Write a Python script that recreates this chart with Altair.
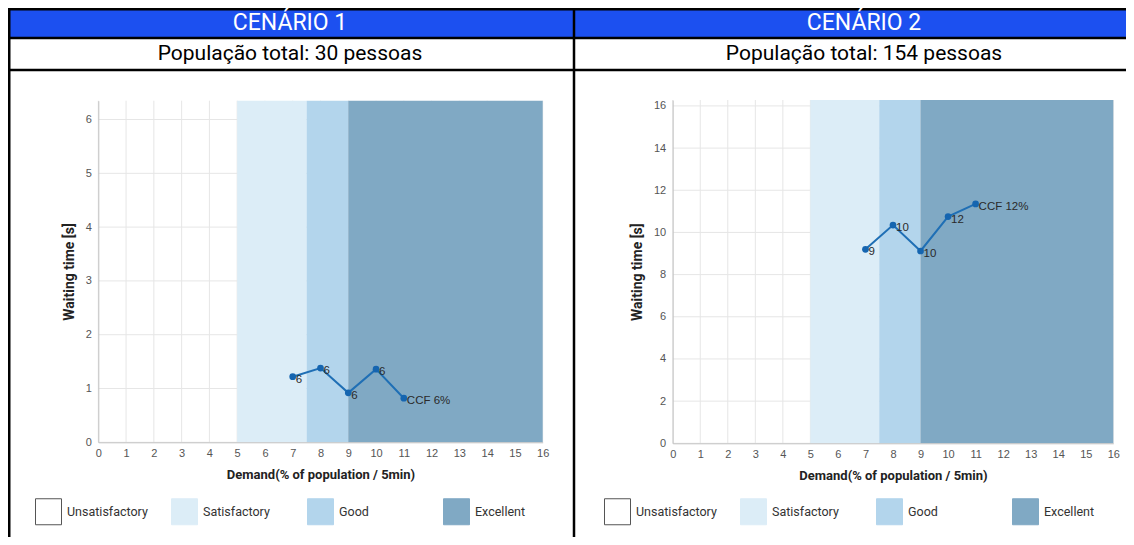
import altair as alt
import pandas as pd

# ---------------- data ----------------
demand = [7, 8, 9, 10, 11]
wait_c1 = [1.22, 1.38, 0.92, 1.36, 0.82]
labels_c1 = ["6", "6", "6", "6", "CCF 6%"]
wait_c2 = [9.2, 10.35, 9.12, 10.75, 11.35]
labels_c2 = ["9", "10", "10", "12", "CCF 12%"]

scenario_titles = ["CENÁRIO 1", "CENÁRIO 2"]
subtitles = ["População total: 30 pessoas", "População total: 154 pessoas"]

band_names = ["Unsatisfactory", "Satisfactory", "Good", "Excellent"]
band_start = [0, 5, 7.5, 9]
band_end = [5, 7.5, 9, 16]
band_colors = ["#ffffff", "#dcedf7", "#b3d5ec", "#80a9c4"]
band_strokes = ["#555555", "#dcedf7", "#b3d5ec", "#80a9c4"]

x_ticks = list(range(0, 17))
y_ticks_c1 = [0, 1, 2, 3, 4, 5, 6]
y_ticks_c2 = [0, 2, 4, 6, 8, 10, 12, 14, 16]
x_max = 16
y_max = [6.35, 16.28]

# ---------------- layout ----------------
W, H = 1118, 529
COND = "Roboto"
SANS = "Liberation Sans"
LINE_COLOR = "#1f6fb5"
GRID_COLOR = "#e6e6e6"


def make_plot(wait, labels, yticks, ymax, xr, yr, legx, legy):
    xs = alt.Scale(domain=[0, x_max], range=xr, nice=False, zero=False)
    ys = alt.Scale(domain=[0, ymax], range=yr, nice=False, zero=False)
    x_axis = alt.Axis(orient="bottom", offset=-(H - yr[0]), values=x_ticks, grid=False,
                      ticks=False, domainColor="#c4c4c4", labelColor="#555555",
                      labelFont=SANS, labelFontSize=11, labelPadding=5, labelFlush=False,
                      labelOverlap=False, title="Demand(% of population / 5min)",
                      titleFont=COND, titleFontSize=13, titleFontWeight="bold",
                      titleColor="#222222", titlePadding=10, zindex=1)
    y_axis = alt.Axis(orient="left", offset=-xr[0], values=yticks, grid=False,
                      ticks=False, domainColor="#c4c4c4", labelColor="#555555",
                      labelFont=SANS, labelFontSize=11, labelPadding=7,
                      labelOverlap=False, title="Waiting time [s]",
                      titleFont=COND, titleFontSize=14, titleFontWeight="bold",
                      titleColor="#222222", titlePadding=9, zindex=1)

    pts = pd.DataFrame({"demand": demand, "wait": wait, "label": labels})
    bands = pd.DataFrame({"band": band_names, "start": band_start, "end": band_end})

    vgrid = alt.Chart(pd.DataFrame({"t": x_ticks})).transform_calculate(
        lo="0", hi=str(ymax)
    ).mark_rule(color=GRID_COLOR, strokeWidth=1).encode(
        x=alt.X("t:Q", scale=xs, axis=None),
        y=alt.Y("lo:Q", scale=ys, axis=None),
        y2="hi:Q",
    )
    hgrid = alt.Chart(pd.DataFrame({"t": yticks})).transform_calculate(
        lo="0", hi=str(x_max)
    ).mark_rule(color=GRID_COLOR, strokeWidth=1).encode(
        y=alt.Y("t:Q", scale=ys, axis=None),
        x=alt.X("lo:Q", scale=xs, axis=None),
        x2="hi:Q",
    )
    band_rects = alt.Chart(bands).transform_filter(
        "datum.band != 'Unsatisfactory'"
    ).transform_calculate(lo="0", hi=str(ymax)).mark_rect().encode(
        x=alt.X("start:Q", scale=xs, axis=None),
        x2="end:Q",
        y=alt.Y("lo:Q", scale=ys, axis=None),
        y2="hi:Q",
        fill=alt.Fill("band:N", scale=alt.Scale(domain=band_names, range=band_colors), legend=None),
    )
    legend_kw = dict(orient="none", legendX=legx, legendY=legy, direction="horizontal",
                     columns=4, gridAlign="all", columnPadding=21, symbolType="square",
                     symbolSize=676, symbolStrokeWidth=1, symbolOpacity=1,
                     labelFont=COND, labelFontSize=12.5,
                     labelColor="#333333", labelOffset=5, padding=0, title=None)
    legend_layer = alt.Chart(bands).transform_filter("false").mark_square(
        filled=True, opacity=1
    ).encode(
        fill=alt.Fill("band:N", scale=alt.Scale(domain=band_names, range=band_colors),
                      legend=alt.Legend(**legend_kw)),
        stroke=alt.Stroke("band:N", scale=alt.Scale(domain=band_names, range=band_strokes),
                          legend=alt.Legend(**legend_kw)),
    )
    line = alt.Chart(pts).mark_line(color=LINE_COLOR, strokeWidth=2).encode(
        x=alt.X("demand:Q", scale=xs, axis=x_axis),
        y=alt.Y("wait:Q", scale=ys, axis=y_axis),
    )
    dots = alt.Chart(pts).mark_circle(size=45, color="#1565b0", opacity=1).encode(
        x=alt.X("demand:Q", scale=xs, axis=None),
        y=alt.Y("wait:Q", scale=ys, axis=None),
    )
    text = alt.Chart(pts).mark_text(align="left", baseline="middle", dx=3, dy=3,
                                    font=SANS, fontSize=11.5, color="#2a2a2a").encode(
        x=alt.X("demand:Q", scale=xs, axis=None),
        y=alt.Y("wait:Q", scale=ys, axis=None),
        text="label:N",
    )
    return [vgrid, hgrid, band_rects, legend_layer, line, dots, text]


left = make_plot(wait_c1, labels_c1, y_ticks_c1, y_max[0], [90.3, 534.7], [434.3, 92.7], 27, 490)
right = make_plot(wait_c2, labels_c2, y_ticks_c2, y_max[1], [664.7, 1105.3], [435.3, 92.0], 596, 490)

one = pd.DataFrame({"k": [0]})
header_bg = alt.Chart(one).mark_rect(color="#1c50f0").encode(
    x=alt.value(0), x2=alt.value(W), y=alt.value(0), y2=alt.value(29)
)
frame_lines = [
    alt.Chart(one).mark_rule(color="black", strokeWidth=2.5).encode(
        x=alt.value(0), x2=alt.value(W), y=alt.value(yv)) for yv in [1.25, 30, 62]
] + [
    alt.Chart(one).mark_rule(color="black", strokeWidth=2.5).encode(
        x=alt.value(xv), y=alt.value(0), y2=alt.value(H)) for xv in [1.25, 566]
]
header_text = [
    alt.Chart(pd.DataFrame({"t": [scenario_titles[i]]})).mark_text(
        font="Roboto", fontSize=23, color="white", align="center", baseline="middle"
    ).encode(text="t:N", x=alt.value(cx), y=alt.value(15))
    for i, cx in enumerate([282, 856])
]
sub_text = [
    alt.Chart(pd.DataFrame({"t": [subtitles[i]]})).mark_text(
        font="Roboto", fontSize=21, color="black", align="center", baseline="middle"
    ).encode(text="t:N", x=alt.value(cx), y=alt.value(46))
    for i, cx in enumerate([282, 856])
]

chart = alt.layer(
    *left, *right, header_bg, *frame_lines, *header_text, *sub_text
).resolve_scale(
    x="independent", y="independent", fill="independent", stroke="independent"
).properties(
    width=W, height=H, padding=0, autosize=alt.AutoSizeParams(type="none")
).configure_view(strokeWidth=0)

chart.save("out.html", embed_options={"renderer": "svg", "actions": False})
